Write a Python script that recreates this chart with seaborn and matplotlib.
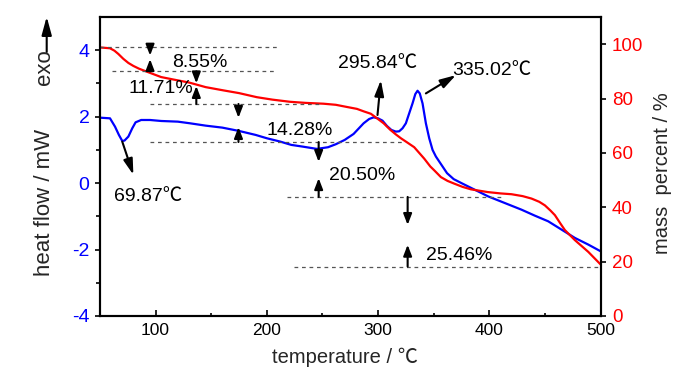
import matplotlib
matplotlib.use("Agg")
import matplotlib.pyplot as plt
from matplotlib.patches import FancyArrowPatch
from matplotlib.ticker import FixedLocator
import seaborn as sns
import pandas as pd

# ---------------- data ----------------
temp_dsc = [50, 59, 63.5, 67, 70, 72, 75.5, 79, 82, 87, 95, 105, 120, 131, 145, 160,
            175, 190, 200, 212, 222, 232, 245, 255, 262, 270, 278, 287, 292, 296, 300,
            304, 308, 312, 316, 319, 322, 325, 328, 331, 333.5, 335.5, 337.5, 340, 343,
            346, 349, 352, 356, 362, 368, 375, 384, 399, 414, 429, 441, 453, 465, 477,
            489, 500]
heat_flow = [1.97, 1.95, 1.7, 1.45, 1.27, 1.28, 1.4, 1.65, 1.83, 1.9, 1.9, 1.87, 1.85,
             1.8, 1.73, 1.67, 1.57, 1.45, 1.35, 1.25, 1.15, 1.1, 1.03, 1.08, 1.17, 1.3,
             1.48, 1.8, 1.93, 1.98, 1.95, 1.88, 1.72, 1.6, 1.55, 1.56, 1.65, 1.8, 2.1,
             2.4, 2.68, 2.78, 2.7, 2.4, 1.8, 1.35, 1.0, 0.8, 0.6, 0.3, 0.12, 0.0, -0.15,
             -0.4, -0.6, -0.8, -0.98, -1.15, -1.4, -1.65, -1.85, -2.05]

temp_tg = [50, 59, 63, 66.5, 71, 75.5, 80, 85, 92, 105, 116, 130, 145, 161, 175, 191,
           205, 221, 235, 251, 262, 272, 281, 287, 293.5, 299.5, 305, 311, 316, 320.5,
           326, 332.5, 337, 341.5, 347, 350.5, 356.5, 362.5, 368.5, 376, 383.5, 398.5,
           410, 420, 430, 438, 445, 450, 455, 459, 464, 468, 477, 489, 500]
mass_pct = [98.8, 98.5, 97.6, 96.4, 94.6, 93.1, 92.0, 91.0, 89.9, 87.9, 87.0, 85.9,
            84.2, 83.0, 82.0, 80.5, 79.6, 78.8, 78.4, 78.1, 77.7, 76.9, 76.2, 75.3,
            74.4, 72.6, 70.9, 68.5, 66.8, 65.4, 63.9, 62.1, 60.0, 57.9, 55.0, 53.6,
            51.1, 49.7, 48.7, 47.5, 46.6, 45.6, 45.1, 44.8, 44.1, 43.2, 42.0, 40.7,
            38.8, 37.1, 34.0, 31.6, 27.9, 23.6, 19.0]

mass_levels = [98.8, 90.0, 78.0, 64.0, 43.8, 18.2]
loss_labels = ["8.55%", "11.71%", "14.28%", "20.50%", "25.46%"]
peak_labels = ["69.87℃", "295.84℃", "335.02℃"]

x_ticks = [100, 200, 300, 400, 500]
hf_ticks = [-4, -2, 0, 2, 4]
mass_ticks = [0, 20, 40, 60, 80, 100]

# ---------------- style ----------------
sns.set_theme(style="ticks")
FAM = ["Liberation Sans", "Noto Sans CJK SC", "DejaVu Sans"]
plt.rcParams["font.family"] = FAM
plt.rcParams["axes.unicode_minus"] = False
plt.rcParams["axes.linewidth"] = 1.5

BLUE = "#0000FF"
RED = "#FF0000"

fig = plt.figure(figsize=(7.0, 3.74), dpi=100)
ax = fig.add_axes([100 / 700, 1 - 316 / 374, 500.5 / 700, 299 / 374])
ax2 = ax.twinx()

df_dsc = pd.DataFrame({"temperature": temp_dsc, "heat_flow": heat_flow})
df_tg = pd.DataFrame({"temperature": temp_tg, "mass": mass_pct})

sns.lineplot(data=df_dsc, x="temperature", y="heat_flow", color=BLUE, lw=1.6,
             ax=ax, legend=False)
sns.lineplot(data=df_tg, x="temperature", y="mass", color=RED, lw=1.6,
             ax=ax2, legend=False)

ax.set_xlim(50, 500)
ax.set_ylim(-4, 5)
ax2.set_ylim(0, 110)
ax.set_xlabel("")
ax.set_ylabel("")
ax2.set_ylabel("")

for a in (ax, ax2):
    for s in a.spines.values():
        s.set_visible(True)
        s.set_linewidth(1.5)
        s.set_color("black")

ax.xaxis.set_major_locator(FixedLocator(x_ticks))
ax.xaxis.set_minor_locator(FixedLocator([150, 250, 350, 450]))
ax.yaxis.set_major_locator(FixedLocator(hf_ticks))
ax.yaxis.set_minor_locator(FixedLocator([-3, -1, 1, 3]))
ax2.yaxis.set_major_locator(FixedLocator(mass_ticks))
ax2.yaxis.set_minor_locator(FixedLocator([]))

ax.tick_params(axis="x", which="major", direction="in", length=4.5, width=1.4,
               labelsize=12.5, pad=5, top=False, labelcolor="black")
ax.tick_params(axis="x", which="minor", direction="in", length=2.5, width=1.4, top=False)
ax.tick_params(axis="y", which="major", direction="out", length=3.6, width=1.4,
               labelsize=14, pad=4, labelcolor=BLUE)
ax.tick_params(axis="y", which="minor", direction="out", length=3, width=1.4)
ax2.tick_params(axis="y", which="major", direction="out", length=3.8, width=1.4,
                labelsize=13.5, pad=4.5, labelcolor=RED)

# dashed step levels (drawn in mass units)
dash_spans = [(50, 210), (60.5, 208), (95, 250), (95, 323), (218, 413), (224, 500)]
for lvl, (x0, x1) in zip(mass_levels, dash_spans):
    ax2.hlines(lvl, x0, x1, colors="#555555", linestyles=(0, (3, 3)), lw=0.9)

# double arrows and loss labels
arrow_x = [95, 136.6, 174.5, 246.6, 326.6]
down_len = [3.0, 4.4, 5.1, 7.3, 10.3]
up_len = [4.5, 6.6, 5.5, 6.9, 8.0]
text_pos = [(114.6, 93.4), (76, 83.7), (199.3, 68.3), (255.6, 51.7), (343, 22.4)]
astyle = "-|>,head_length=0.65,head_width=0.25"
for i, lab in enumerate(loss_labels):
    top, bot = mass_levels[i], mass_levels[i + 1]
    xa = arrow_x[i]
    ax2.annotate("", xy=(xa, top - down_len[i]), xytext=(xa, top),
                 arrowprops=dict(arrowstyle=astyle, color="black", lw=1.5,
                                 shrinkA=0, shrinkB=0, mutation_scale=10))
    ax2.annotate("", xy=(xa, bot + up_len[i]), xytext=(xa, bot),
                 arrowprops=dict(arrowstyle=astyle, color="black", lw=1.5,
                                 shrinkA=0, shrinkB=0, mutation_scale=10))
    ax2.text(text_pos[i][0], text_pos[i][1], lab, fontsize=14, ha="left",
             va="center", color="black")

# peak temperature annotations (heat-flow units)
peak_arrows = [((70, 1.25), (80, 0.25)), ((299.5, 2.05), (302.5, 3.1)),
               ((343, 2.7), (370, 3.25))]
peak_text = [(93.3, -0.4), (300, 3.6), (402.6, 3.4)]
pstyle = "-|>,head_length=0.95,head_width=0.28"
for lab, (tail, head), tp in zip(peak_labels, peak_arrows, peak_text):
    ax.annotate("", xy=head, xytext=tail,
                arrowprops=dict(arrowstyle=pstyle, color="black", lw=1.5,
                                shrinkA=0, shrinkB=0, mutation_scale=10))
    ax.text(tp[0], tp[1], lab, fontsize=14, ha="center", va="center",
            color="black")

# axis labels
fig.text(45 / 700, 1 - 202.5 / 374, "heat flow / mW", rotation=90, ha="center",
         va="center", fontsize=16)
fig.text(45 / 700, 1 - 67.5 / 374, "exo", rotation=90, ha="center", va="center",
         fontsize=16)
fig.patches.append(FancyArrowPatch(
    (46.7 / 700, 1 - 52 / 374), (46.7 / 700, 1 - 16.7 / 374),
    transform=fig.transFigure, arrowstyle="-|>,head_length=1.1,head_width=0.3",
    mutation_scale=10, color="black", lw=1.5, shrinkA=0, shrinkB=0, figure=fig))
fig.text(663 / 700, 1 - 173 / 374, "mass  percent / %", rotation=90, ha="center",
         va="center", fontsize=14.5)
fig.text(345 / 700, 1 - 357 / 374, "temperature / ℃", ha="center", va="center",
         fontsize=14.5)

fig.savefig("out.png", dpi=100)
